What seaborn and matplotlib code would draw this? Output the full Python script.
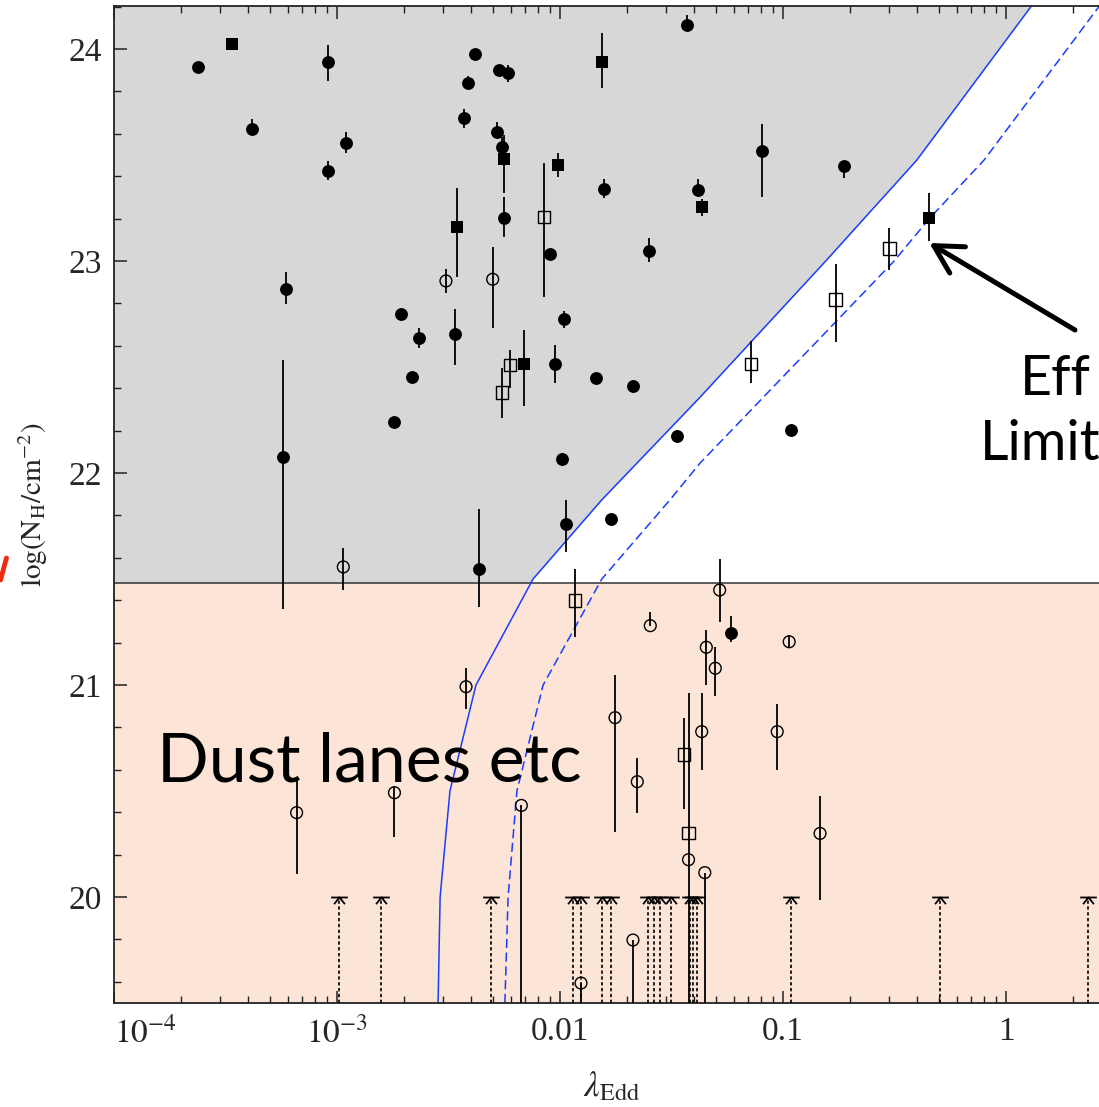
import numpy as np
import matplotlib
matplotlib.use("Agg")
import matplotlib.pyplot as plt
import seaborn as sns
from matplotlib.path import Path
from matplotlib.lines import Line2D
from matplotlib.ticker import FixedLocator, FixedFormatter, LogLocator, MultipleLocator, NullFormatter

# ---------------------------------------------------------------- data
# Eddington ratio (lambda_Edd), log N_H and asymmetric errors (lower, upper)

# filled circles
fc_lam = [2.38e-4, 4.16e-4, 9.12e-4, 1.10e-3, 9.12e-4, 5.89e-4, 1.94e-3, 0.0370,
          4.14e-3, 5.35e-3, 5.86e-3, 3.86e-3, 3.70e-3, 5.22e-3, 5.48e-3, 0.01574,
          0.0416, 0.0807, 5.59e-3, 9.05e-3, 0.0250, 2.34e-3, 3.37e-3, 0.01039,
          0.1884, 0.1089, 5.74e-4, 4.35e-3, 1.81e-3, 2.18e-3, 0.01064, 0.01693,
          0.0585, 0.01021, 9.50e-3, 0.0145, 0.02124, 0.0335]
fc_nh = [23.915, 23.621, 23.937, 23.558, 23.426, 22.869, 22.749, 24.115,
         23.975, 23.901, 23.885, 23.841, 23.673, 23.610, 23.538, 23.340,
         23.335, 23.520, 23.204, 23.033, 23.049, 22.638, 22.657, 22.726,
         23.450, 22.204, 22.075, 21.549, 22.241, 22.454, 21.758, 21.784,
         21.247, 22.066, 22.514, 22.448, 22.410, 22.175]
fc_elo = [0, 0, 0.09, 0.05, 0.045, 0.07, 0, 0,
          0, 0, 0.04, 0.03, 0.045, 0.03, 0.05, 0.045,
          0, 0.217, 0.09, 0.02, 0.052, 0.047, 0.148, 0.04,
          0.057, 0, 0.715, 0.18, 0, 0, 0.129, 0,
          0.043, 0.03, 0.09, 0, 0, 0.03]
fc_ehi = [0, 0.05, 0.08, 0.05, 0.045, 0.08, 0, 0.045,
          0, 0, 0.04, 0.03, 0.045, 0.047, 0.048, 0.045,
          0.05, 0.126, 0.10, 0.02, 0.059, 0.047, 0.117, 0.04,
          0, 0, 0.458, 0.28, 0, 0, 0.115, 0,
          0.08, 0.03, 0.09, 0, 0, 0.03]

# filled squares
fs_lam = [3.38e-4, 0.01542, 5.61e-3, 9.77e-3, 0.0434, 3.45e-3, 6.87e-3, 0.4529]
fs_nh = [24.022, 23.939, 23.480, 23.453, 23.253, 23.159, 22.514, 23.201]
fs_elo = [0, 0.122, 0.158, 0.057, 0.04, 0.233, 0.20, 0.105]
fs_ehi = [0, 0.136, 0.114, 0.057, 0.04, 0.185, 0.16, 0.12]

# open squares
os_lam = [8.50e-3, 5.48e-3, 5.98e-3, 0.01171, 0.0360, 0.0377, 0.2997, 0.1722, 0.0719]
os_nh = [23.209, 22.379, 22.509, 21.398, 20.673, 20.303, 23.060, 22.819, 22.513]
os_elo = [0.377, 0.12, 0.11, 0.17, 0.259, 0.13, 0.10, 0.20, 0.09]
os_ehi = [0.253, 0.117, 0.07, 0.15, 0.173, 0.66, 0.097, 0.166, 0.11]

# open circles
oc_lam = [3.08e-3, 4.99e-3, 1.067e-3, 0.0520, 0.0254, 0.0453, 0.0497, 0.1066,
          3.79e-3, 0.01765, 0.0432, 0.0942, 0.02221, 6.71e-3, 0.1466, 0.0446,
          0.0377, 6.59e-4, 1.81e-3, 0.02124, 0.01242]
oc_nh = [22.906, 22.914, 21.557, 21.448, 21.280, 21.178, 21.079, 21.204,
         20.992, 20.846, 20.780, 20.780, 20.544, 20.432, 20.300, 20.115,
         20.176, 20.398, 20.492, 19.797, 19.594]
oc_elo = [0.055, 0.229, 0.11, 0.15, 0.0, 0.18, 0.13, 0.03,
          0.107, 0.54, 0.18, 0.18, 0.15, 0.932, 0.314, 0.615,
          0.676, 0.288, 0.21, 0.297, 0.094]
oc_ehi = [0.055, 0.153, 0.09, 0.146, 0.066, 0.08, 0.10, 0.03,
          0.09, 0.20, 0.18, 0.13, 0.11, 0.0, 0.177, 0.0,
          0.0, 0.157, 0.03, 0.0, 0.0]

# upper limits at log N_H = 20
ul_lam = [1.018e-3, 1.574e-3, 4.91e-3, 0.01139, 0.01247, 0.01542, 0.01691,
          0.02486, 0.02636, 0.02799, 0.03135, 0.03836, 0.03945, 0.04102,
          0.1087, 0.508, 2.337]
ul_nh = 20.0

# effective Eddington limit curves
lim_lam = [0.00284, 0.0029, 0.00321, 0.0042, 0.00757, 0.01538, 0.0425, 0.157, 0.398, 1.30]
lim_nh = [19.5, 20.0, 20.5, 21.0, 21.5, 21.873, 22.358, 23.005, 23.476, 24.203]
lim2_lam = [0.00566, 0.00585, 0.00641, 0.0084, 0.0154, 0.0311, 0.0425, 0.315, 0.453, 0.797, 2.61]
lim2_nh = [19.5, 20.0, 20.5, 21.0, 21.5, 21.873, 22.047, 23.0, 23.2, 23.476, 24.2]

nh_split = 21.48
x_ticks = [1e-4, 1e-3, 1e-2, 1e-1, 1.0]
x_ticklabels = [r"$10^{-4}$", r"$10^{-3}$", "0.01", "0.1", "1"]
y_ticks = [20, 21, 22, 23, 24]

# ---------------------------------------------------------------- style
sns.set_theme(style="ticks")
plt.rcParams["font.family"] = ["Liberation Serif", "DejaVu Serif"]
plt.rcParams["mathtext.fontset"] = "stix"

W, H = 1099, 1107
fig = plt.figure(figsize=(W / 100, H / 100), dpi=100)
fig.patch.set_facecolor("white")
ax_l, ax_r, ax_t, ax_b = 114, 1110, 6, 1003
ax = fig.add_axes([ax_l / W, (H - ax_b) / H, (ax_r - ax_l) / W, (ax_b - ax_t) / H])
ax.set_xscale("log")
x_lo, x_hi = 1e-4, 10 ** (-3 + (ax_r - 337) / 223)
y_lo, y_hi = 19.5, 24.203
ax.set_xlim(x_lo, x_hi)
ax.set_ylim(y_lo, y_hi)
ax.set_facecolor("white")

GRAY = "#d7d7d7"
PINK = "#fce4d6"
BLUE = "#1c3cff"

# shaded regions
ax.axhspan(y_lo, nh_split, color=PINK, zorder=0, lw=0)
yy = np.linspace(nh_split, y_hi, 300)
xx = 10 ** np.interp(yy, lim_nh, np.log10(lim_lam))
ax.fill_betweenx(yy, x_lo, xx, color=GRAY, zorder=0, lw=0)
ax.axhline(nh_split, color="#333333", lw=1.1, zorder=1)

# limit curves
sns.lineplot(x=lim_lam, y=lim_nh, sort=False, estimator=None, color=BLUE, lw=1.1, ax=ax, zorder=2)
sns.lineplot(x=lim2_lam, y=lim2_nh, sort=False, estimator=None, color=BLUE, lw=1.1,
             dashes=False, linestyle=(0, (6, 3)), ax=ax, zorder=2)

# error bars
for lam, nh, lo, hi in [(fc_lam, fc_nh, fc_elo, fc_ehi), (fs_lam, fs_nh, fs_elo, fs_ehi),
                        (os_lam, os_nh, os_elo, os_ehi), (oc_lam, oc_nh, oc_elo, oc_ehi)]:
    ax.errorbar(lam, nh, yerr=np.array([lo, hi]), fmt="none", ecolor="black",
                elinewidth=1.3, capsize=0, zorder=3)

# points
sns.scatterplot(x=fc_lam, y=fc_nh, marker="o", s=86, color="black", edgecolor="black",
                linewidth=0, ax=ax, zorder=4)
sns.scatterplot(x=fs_lam, y=fs_nh, marker="s", s=84, color="black", edgecolor="black",
                linewidth=0, ax=ax, zorder=4)
sns.scatterplot(x=oc_lam, y=oc_nh, marker="o", s=72, facecolor="none", edgecolor="black",
                linewidth=1.0, ax=ax, zorder=4)
sns.scatterplot(x=os_lam, y=os_nh, marker="s", s=80, facecolor="none", edgecolor="black",
                linewidth=1.0, ax=ax, zorder=4)

# upper limits: dotted drop line, bar and open arrow head
ax.vlines(ul_lam, y_lo, ul_nh, colors="black", linestyles=(0, (2, 1.5)), lw=1.2, zorder=3)
ul_marker = Path([(-1, 0), (1, 0), (-0.65, -0.8), (0, 0), (0.65, -0.8)],
                 [Path.MOVETO, Path.LINETO, Path.MOVETO, Path.LINETO, Path.LINETO])
ax.plot(ul_lam, [ul_nh] * len(ul_lam), ls="none", marker=ul_marker, markersize=12,
        markerfacecolor="none", markeredgecolor="black", markeredgewidth=1.3, zorder=4)

# axes, ticks
for side in ["left", "bottom", "top", "right"]:
    ax.spines[side].set_visible(True)
    ax.spines[side].set_color("#222222")
    ax.spines[side].set_linewidth(1.3)
ax.xaxis.set_major_locator(FixedLocator(x_ticks))
ax.xaxis.set_major_formatter(FixedFormatter(x_ticklabels))
ax.xaxis.set_minor_locator(LogLocator(base=10, subs=np.arange(2, 10), numticks=20))
ax.xaxis.set_minor_formatter(NullFormatter())
ax.yaxis.set_major_locator(FixedLocator(y_ticks))
ax.yaxis.set_minor_locator(MultipleLocator(0.2))
ax.tick_params(which="both", direction="in", top=True, right=False, color="#222222")
ax.tick_params(which="major", length=9, width=1.1, labelsize=24, pad=10)
ax.tick_params(which="minor", length=5, width=1.0)
ax.tick_params(axis="y", which="major", pad=9)
for lab in ax.get_xticklabels():
    if lab.get_text() == x_ticklabels[0]:
        lab.set_horizontalalignment("left")

ax.set_xlabel(r"$\lambda_{\mathrm{Edd}}$", fontsize=25)
ax.xaxis.set_label_coords((612 - ax_l) / (ax_r - ax_l), -(1070 - ax_b) / (ax_b - ax_t))
ax.set_ylabel(r"$\mathrm{log(N_H/cm^{-2})}$", fontsize=21)
ax.yaxis.set_label_coords(-(ax_l - 50) / (ax_r - ax_l), (ax_b - 505) / (ax_b - ax_t))

# annotations
fig.text(157 / W, (H - 782) / H, "Dust lanes etc", fontsize=49, family=["Lato", "DejaVu Sans"],
         ha="left", va="baseline", color="black")
fig.text(1020 / W, (H - 395) / H, "Eff", fontsize=40, family=["Lato", "DejaVu Sans"],
         ha="left", va="baseline", color="black")
fig.text(980 / W, (H - 460) / H, "Limit", fontsize=40, family=["Lato", "DejaVu Sans"],
         ha="left", va="baseline", color="black")
ax.annotate("", xy=(fs_lam[7], 23.085), xycoords="data",
            xytext=(1075, H - 330), textcoords="figure pixels",
            arrowprops=dict(arrowstyle="->,head_length=1.0,head_width=0.55", lw=3.6,
                            color="black", shrinkA=0, shrinkB=0, mutation_scale=20),
            zorder=6)
fig.add_artist(Line2D([0.5 / W, 6.5 / W], [(H - 580) / H, (H - 558) / H],
                      color="#ee2a10", lw=3.5, solid_capstyle="round"))

fig.savefig("out.png", dpi=100)
